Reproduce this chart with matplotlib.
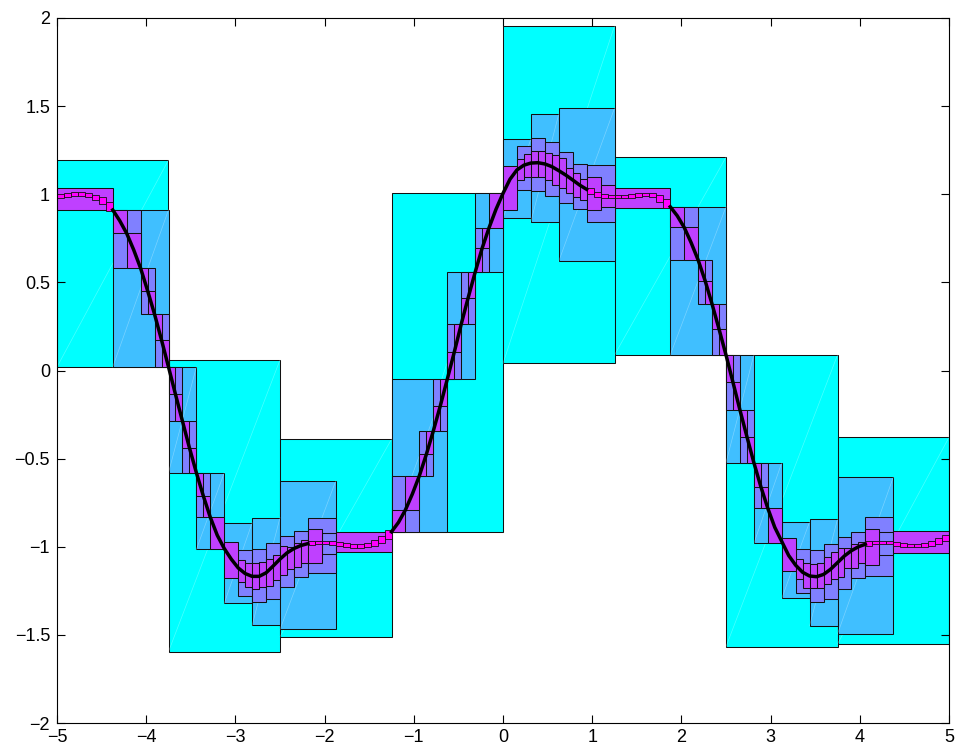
import matplotlib
matplotlib.use('Agg')
import matplotlib.pyplot as plt
import numpy as np
from matplotlib.ticker import FuncFormatter

plt.rcParams['font.family'] = ['Liberation Sans', 'DejaVu Sans']

# function samples on [-5, 5], step 1/12.8
curve_x = np.linspace(-5, 5, 129)
curve_y = [
    0.985, 0.995, 1.0, 1.003, 1.0, 0.99, 0.975, 0.95,
    0.911, 0.85, 0.778, 0.685, 0.58, 0.453, 0.319, 0.173,
    0.02, -0.135, -0.287, -0.438, -0.58, -0.712, -0.833, -0.935,
    -1.01, -1.07, -1.12, -1.152, -1.168, -1.168, -1.148, -1.11,
    -1.07, -1.035, -1.01, -0.993, -0.982, -0.976, -0.975, -0.978,
    -0.982, -0.988, -0.994, -0.997, -0.994, -0.985, -0.97, -0.947,
    -0.915, -0.862, -0.791, -0.70, -0.597, -0.476, -0.343, -0.201,
    -0.05, 0.103, 0.262, 0.413, 0.557, 0.693, 0.81, 0.915,
    1.005, 1.085, 1.138, 1.165, 1.177, 1.179, 1.172, 1.157,
    1.134, 1.109, 1.081, 1.052, 1.028, 1.007, 0.994, 0.988,
    0.986, 0.985, 0.988, 0.994, 0.999, 1.0, 0.99, 0.965,
    0.929, 0.878, 0.812, 0.725, 0.627, 0.51, 0.377, 0.235,
    0.088, -0.067, -0.224, -0.375, -0.523, -0.659, -0.782, -0.89,
    -0.97, -1.05, -1.105, -1.145, -1.166, -1.17, -1.157, -1.128,
    -1.09, -1.052, -1.022, -1.0, -0.986, -0.977, -0.973, -0.974,
    -0.979, -0.985, -0.991, -0.994, -0.993, -0.987, -0.976, -0.96,
    -0.94,
]

# first enclosure: 8 intervals
cyan_edges = [-5, -3.75, -2.5, -1.25, 0, 1.25, 2.5, 3.75, 5]
cyan_lo = [0.02, -1.595, -1.51, -0.914, 0.04, 0.088, -1.567, -1.552]
cyan_hi = [1.194, 0.06, -0.39, 1.005, 1.955, 1.21, 0.088, -0.379]

# refined enclosures (x0, x1, lower, upper)
blue_boxes = [
    (-4.375, -3.75, 0.02, 0.911),
    (-3.75, -3.4375, -0.58, 0.02),
    (-3.4375, -3.125, -1.015, -0.58),
    (-3.125, -2.8125, -1.321, -0.864),
    (-2.8125, -2.5, -1.446, -0.835),
    (-2.5, -1.875, -1.469, -0.627),
    (-1.25, -0.625, -0.915, -0.05),
    (-0.625, -0.3125, -0.05, 0.557),
    (-0.3125, 0, 0.557, 1.005),
    (0, 0.3125, 0.864, 1.312),
    (0.3125, 0.625, 0.845, 1.454),
    (0.625, 1.25, 0.62, 1.488),
    (1.875, 2.5, 0.088, 0.929),
    (2.5, 2.8125, -0.523, 0.088),
    (2.8125, 3.125, -0.981, -0.523),
    (3.125, 3.4375, -1.293, -0.858),
    (3.4375, 3.75, -1.448, -0.844),
    (3.75, 4.375, -1.495, -0.606),
]

violet_boxes = [
    (-4.375, -4.0625, 0.58, 0.911),
    (-4.0625, -3.90625, 0.319, 0.58),
    (-3.90625, -3.75, 0.02, 0.319),
    (-3.75, -3.59375, -0.287, 0.02),
    (-3.59375, -3.4375, -0.58, -0.287),
    (-3.4375, -3.28125, -0.833, -0.58),
    (-2.96875, -2.8125, -1.279, -1.018),
    (-2.8125, -2.65625, -1.312, -1.015),
    (-2.65625, -2.5, -1.296, -0.981),
    (-2.5, -2.34375, -1.23, -0.939),
    (-2.34375, -2.1875, -1.17, -0.909),
    (-2.1875, -1.875, -1.151, -0.839),
    (-2.03125, -1.875, -1.041, -0.924),
    (-1.25, -0.9375, -0.915, -0.597),
    (-0.9375, -0.78125, -0.597, -0.343),
    (-0.78125, -0.625, -0.343, -0.05),
    (-0.625, -0.46875, -0.05, 0.262),
    (-0.46875, -0.3125, 0.262, 0.557),
    (-0.3125, -0.15625, 0.557, 0.81),
    (0.15625, 0.3125, 1.024, 1.276),
    (0.3125, 0.46875, 1.02, 1.317),
    (0.46875, 0.625, 0.99, 1.298),
    (0.625, 0.78125, 0.949, 1.241),
    (0.78125, 0.9375, 0.916, 1.17),
    (0.9375, 1.25, 0.845, 1.165),
    (1.875, 2.1875, 0.627, 0.929),
    (2.1875, 2.34375, 0.377, 0.627),
    (2.34375, 2.5, 0.088, 0.377),
    (2.5, 2.65625, -0.224, 0.088),
    (2.65625, 2.8125, -0.523, -0.224),
    (2.8125, 2.96875, -0.782, -0.523),
    (3.28125, 3.4375, -1.264, -1.013),
    (3.4375, 3.59375, -1.312, -1.018),
    (3.59375, 3.75, -1.296, -0.986),
    (3.75, 3.90625, -1.241, -0.947),
    (3.90625, 4.0625, -1.176, -0.915),
    (4.0625, 4.375, -1.164, -0.833),
    (4.21875, 4.375, -1.047, -0.915),
]

purple_boxes = [
    (-5, -4.375, 0.911, 1.037),
    (-1.875, -1.25, -1.028, -0.915),
    (1.25, 1.875, 0.924, 1.037),
    (4.375, 5, -1.034, -0.911),
    (-4.375, -4.21875, 0.778, 0.911),
    (-4.21875, -4.0625, 0.58, 0.778),
    (-4.0625, -3.984375, 0.453, 0.58),
    (-3.984375, -3.90625, 0.319, 0.453),
    (-3.90625, -3.828125, 0.173, 0.319),
    (-3.828125, -3.75, 0.02, 0.173),
    (-3.75, -3.671875, -0.135, 0.02),
    (-3.671875, -3.59375, -0.287, -0.135),
    (-3.59375, -3.515625, -0.438, -0.287),
    (-3.515625, -3.4375, -0.58, -0.438),
    (-3.4375, -3.359375, -0.712, -0.58),
    (-3.359375, -3.28125, -0.833, -0.712),
    (-3.28125, -3.125, -1.015, -0.829),
    (-3.125, -2.96875, -1.176, -0.971),
    (-2.96875, -2.890625, -1.198, -1.075),
    (-2.890625, -2.8125, -1.23, -1.094),
    (-2.8125, -2.734375, -1.241, -1.09),
    (-2.734375, -2.65625, -1.227, -1.085),
    (-2.65625, -2.578125, -1.223, -1.071),
    (-2.578125, -2.5, -1.189, -1.047),
    (-2.5, -2.421875, -1.16, -0.996),
    (-2.421875, -2.34375, -1.128, -1.0),
    (-2.34375, -2.265625, -1.117, -0.977),
    (-2.265625, -2.1875, -1.09, -0.962),
    (-2.1875, -2.03125, -1.09, -0.901),
    (-1.25, -1.09375, -0.915, -0.791),
    (-1.09375, -0.9375, -0.791, -0.597),
    (-0.9375, -0.859375, -0.597, -0.476),
    (-0.859375, -0.78125, -0.476, -0.343),
    (-0.78125, -0.703125, -0.343, -0.201),
    (-0.703125, -0.625, -0.201, -0.05),
    (-0.625, -0.546875, -0.05, 0.103),
    (-0.546875, -0.46875, 0.103, 0.262),
    (-0.46875, -0.390625, 0.262, 0.413),
    (-0.390625, -0.3125, 0.413, 0.557),
    (-0.3125, -0.234375, 0.557, 0.693),
    (-0.234375, -0.15625, 0.693, 0.81),
    (-0.15625, 0, 0.81, 1.005),
    (0, 0.15625, 0.911, 1.162),
    (0.15625, 0.234375, 1.081, 1.2),
    (0.234375, 0.3125, 1.096, 1.227),
    (0.3125, 0.390625, 1.1, 1.245),
    (0.390625, 0.46875, 1.096, 1.245),
    (0.46875, 0.546875, 1.081, 1.236),
    (0.546875, 0.625, 1.052, 1.223),
    (0.625, 0.703125, 1.034, 1.204),
    (0.703125, 0.78125, 1.005, 1.147),
    (0.78125, 0.859375, 0.986, 1.119),
    (0.859375, 0.9375, 0.967, 1.087),
    (0.9375, 1.09375, 0.911, 1.096),
    (1.09375, 1.25, 0.926, 1.052),
    (1.875, 2.03125, 0.812, 0.929),
    (2.03125, 2.1875, 0.627, 0.812),
    (2.1875, 2.265625, 0.51, 0.627),
    (2.265625, 2.34375, 0.377, 0.51),
    (2.34375, 2.421875, 0.235, 0.377),
    (2.421875, 2.5, 0.088, 0.235),
    (2.5, 2.578125, -0.067, 0.088),
    (2.578125, 2.65625, -0.224, -0.067),
    (2.65625, 2.734375, -0.375, -0.224),
    (2.734375, 2.8125, -0.523, -0.375),
    (2.8125, 2.890625, -0.659, -0.523),
    (2.890625, 2.96875, -0.782, -0.659),
    (2.96875, 3.125, -0.981, -0.782),
    (3.125, 3.28125, -1.138, -0.952),
    (3.28125, 3.359375, -1.185, -1.07),
    (3.359375, 3.4375, -1.236, -1.09),
    (3.4375, 3.515625, -1.236, -1.098),
    (3.515625, 3.59375, -1.236, -1.09),
    (3.59375, 3.671875, -1.211, -1.056),
    (3.671875, 3.75, -1.185, -1.028),
    (3.75, 3.828125, -1.17, -1.009),
    (3.828125, 3.90625, -1.122, -1.009),
    (3.90625, 3.984375, -1.119, -0.986),
    (3.984375, 4.0625, -1.094, -0.971),
    (4.0625, 4.21875, -1.104, -0.901),
]

level_colors = ['#00ffff', '#40bfff', '#8080ff', '#bf40ff', '#ff00ff']
edge = '#111111'


def draw_boxes(ax, boxes, color, z, diagonal=False, lw=0.75):
    x0 = [b[0] for b in boxes]
    w = [b[1] - b[0] for b in boxes]
    lo = [b[2] for b in boxes]
    h = [b[3] - b[2] for b in boxes]
    ax.bar(x0, h, width=w, bottom=lo, align='edge', color=color,
           edgecolor=edge, linewidth=lw, zorder=z)
    if diagonal:
        # faint seam left by the patch fill
        for b in boxes:
            ax.plot([b[0], b[1]], [b[2], b[3]], color='white', lw=0.5,
                    alpha=0.3, zorder=z + 0.1)


def enclosing_width(xm):
    for b in purple_boxes:
        if b[0] <= xm <= b[1]:
            return b[1] - b[0]
    return 1.0


fig = plt.figure(figsize=(9.56, 7.5), dpi=100)
ax = fig.add_axes([57 / 956, 27 / 750, 892 / 956, 705 / 750])

cyan_boxes = [(cyan_edges[i], cyan_edges[i + 1], cyan_lo[i], cyan_hi[i])
              for i in range(len(cyan_lo))]
draw_boxes(ax, cyan_boxes, level_colors[0], 1, diagonal=True)
draw_boxes(ax, blue_boxes, level_colors[1], 2, diagonal=True)
draw_boxes(ax, violet_boxes, level_colors[2], 3)
draw_boxes(ax, purple_boxes, level_colors[3], 4)

# finest level: tiny boxes on the flat parts, solid band where steep
fine = []
thick = []
for i in range(len(curve_y) - 1):
    a, b = curve_y[i], curve_y[i + 1]
    xm = 0.5 * (curve_x[i] + curve_x[i + 1])
    if enclosing_width(xm) > 0.15 and abs(b - a) < 0.05:
        fine.append((curve_x[i], curve_x[i + 1], min(a, b) - 0.008, max(a, b) + 0.008))
        thick.append(False)
    else:
        thick.append(True)
draw_boxes(ax, fine, level_colors[4], 5, lw=0.6)

run = []
for i, t in enumerate(thick):
    if t:
        if not run:
            run = [i]
        run.append(i + 1)
    elif run:
        ax.plot(curve_x[run[0]:run[-1] + 1], curve_y[run[0]:run[-1] + 1],
                color='black', lw=2.5, solid_joinstyle='round', zorder=6)
        run = []
if run:
    ax.plot(curve_x[run[0]:run[-1] + 1], curve_y[run[0]:run[-1] + 1],
            color='black', lw=2.5, solid_joinstyle='round', zorder=6)

ax.set_xlim(-5, 5)
ax.set_ylim(-2, 2)
ax.set_xticks(range(-5, 6))
ax.set_yticks(np.arange(-2, 2.01, 0.5))
fmt = FuncFormatter(lambda v, _: ('%g' % v).replace('-', '\u2212'))
ax.xaxis.set_major_formatter(fmt)
ax.yaxis.set_major_formatter(fmt)
ax.tick_params(direction='in', length=5.5, width=0.8, top=True, right=True,
               labelsize=13, pad=5)
ax.tick_params(axis='x', pad=4)
for s in ax.spines.values():
    s.set_linewidth(0.8)
    s.set_zorder(10)

fig.savefig('out.png', dpi=100)
